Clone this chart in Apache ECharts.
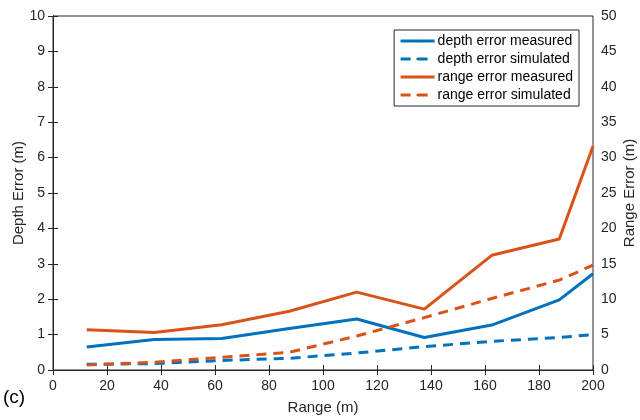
<!DOCTYPE html>
<html><head><meta charset="utf-8">
<script src="https://cdn.jsdelivr.net/npm/echarts@6/dist/echarts.min.js"></script>
<style>html,body{margin:0;padding:0;background:#fff}#c{width:640px;height:420px}</style>
</head><body><div id="c"></div>
<script>
const ranges = [12.5, 37.5, 62.5, 87.5, 112.5, 137.5, 162.5, 187.5, 200];
const depthMeasured = [0.65, 0.86, 0.89, 1.17, 1.44, 0.92, 1.27, 1.98, 2.72];
const depthSimulated = [0.16, 0.18, 0.27, 0.33, 0.48, 0.66, 0.81, 0.92, 1.0];
const rangeMeasured = [5.7, 5.3, 6.4, 8.3, 11.0, 8.6, 16.2, 18.5, 31.6];
const rangeSimulated = [0.7, 1.1, 1.8, 2.5, 4.8, 7.4, 10.1, 12.7, 14.8];
const names = ['depth error measured','depth error simulated','range error measured','range error simulated'];
const xTicks = {min:0, max:200, interval:20};

const blue = '#0072BD', orange = '#D95319';
const font = 'Liberation Sans, Arial, sans-serif';
const pair = (ys) => ranges.map((x,i)=>[x, ys[i]]);

const chart = echarts.init(document.getElementById('c'));
chart.setOption({
  animation:false,
  textStyle:{fontFamily:font},
  grid:{left:53, right:47, top:16, bottom:50, outerBoundsMode:'none', containLabel:false, show:true, borderColor:'#262626', borderWidth:1, backgroundColor:'transparent'},
  legend:{
    right:61, top:30, orient:'vertical', itemWidth:34, itemHeight:3, itemGap:4,
    borderColor:'#262626', borderWidth:1, padding:[4,6,4,5], backgroundColor:'#fff',
    lineStyle:{width:3},
    textStyle:{fontSize:14, color:'#000', fontFamily:font, padding:[0,0,0,-2]},
    data:names
  },
  xAxis:[
    {type:'value', min:xTicks.min, max:xTicks.max, interval:xTicks.interval, position:'bottom',
    name:'Range (m)', nameLocation:'middle', nameGap:30, nameMoveOverlap:false, nameTextStyle:{fontSize:15, color:'#262626'},
    axisLine:{lineStyle:{color:'#262626'}}, axisTick:{inside:true, length:5, lineStyle:{color:'#262626'}},
    axisLabel:{fontSize:14, color:'#262626', margin:9}, splitLine:{show:false}},
    {type:'value', min:xTicks.min, max:xTicks.max, interval:xTicks.interval, position:'top',
    axisLine:{lineStyle:{color:'#262626'}}, axisTick:{inside:true, length:5, lineStyle:{color:'#262626'}},
    axisLabel:{show:false}, splitLine:{show:false}}
  ],
  yAxis:[
    {type:'value', min:0, max:10, interval:1, position:'left',
     name:'Depth Error (m)', nameLocation:'middle', nameGap:27, nameMoveOverlap:false, nameTextStyle:{fontSize:15, color:'#262626'},
     axisLine:{show:true, lineStyle:{color:'#262626'}}, axisTick:{show:true, inside:true, length:5, lineStyle:{color:'#262626'}},
     axisLabel:{fontSize:14, color:'#262626', margin:8}, splitLine:{show:false}},
    {type:'value', min:0, max:50, interval:5, position:'right',
     name:'Range Error (m)', nameLocation:'middle', nameGap:29, nameRotate:90, nameMoveOverlap:false, nameTextStyle:{fontSize:15, color:'#262626'},
     axisLine:{show:true, lineStyle:{color:'#262626'}}, axisTick:{show:true, inside:true, length:5, lineStyle:{color:'#262626'}},
     axisLabel:{fontSize:14, color:'#262626', margin:8}, splitLine:{show:false}}
  ],
  graphic:[{type:'text', left:3, top:388, style:{text:'(c)', fontSize:19, fill:'#000', fontFamily:font}}],
  series:[
    {name:names[0], type:'line', xAxisIndex:0, yAxisIndex:0, data:pair(depthMeasured), symbol:'none', lineStyle:{color:blue, width:3}, itemStyle:{color:blue}},
    {name:names[1], type:'line', xAxisIndex:0, yAxisIndex:0, data:pair(depthSimulated), symbol:'none', lineStyle:{color:blue, width:3, type:[10,7]}, itemStyle:{color:blue}},
    {name:names[2], type:'line', xAxisIndex:0, yAxisIndex:1, data:pair(rangeMeasured), symbol:'none', lineStyle:{color:orange, width:3}, itemStyle:{color:orange}},
    {name:names[3], type:'line', xAxisIndex:0, yAxisIndex:1, data:pair(rangeSimulated), symbol:'none', lineStyle:{color:orange, width:3, type:[10,7]}, itemStyle:{color:orange}}
  ]
});
</script></body></html>
